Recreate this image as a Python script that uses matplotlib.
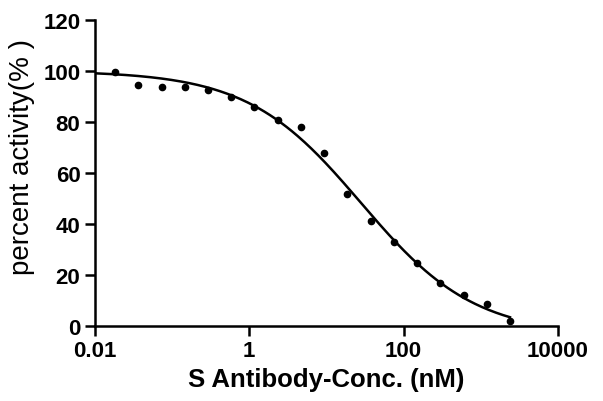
import numpy as np
import matplotlib
matplotlib.use('Agg')
import matplotlib.pyplot as plt

# 데이터 (2배 희석 농도, nM)
conc = [0.0183, 0.0366, 0.0732, 0.146, 0.293, 0.586, 1.17, 2.34, 4.69,
        9.375, 18.75, 37.5, 75, 150, 300, 600, 1200, 2400]
activity = [99.5, 94.5, 93.8, 93.8, 92.5, 89.7, 85.8, 80.9, 78.0,
            67.6, 51.8, 41.0, 32.9, 24.5, 16.8, 12.2, 8.6, 1.7]

x_ticks = [0.01, 1, 100, 10000]
x_ticklabels = ['0.01', '1', '100', '10000']
y_ticks = [0, 20, 40, 60, 80, 100, 120]

# 4PL 곡선 피팅 (top=100 고정, hill / IC50 격자 탐색 + bottom 최소제곱)
TOP = 100.0
x = np.array(conc)
y = np.array(activity)
best = None
for h in np.linspace(0.3, 1.5, 121):
    for lc in np.linspace(0, 2.5, 251):
        s = 1.0 / (1.0 + (x / 10**lc) ** h)
        # y = bottom + (TOP - bottom) * s  ->  y - TOP*s = bottom * (1 - s)
        b = np.sum((y - TOP * s) * (1 - s)) / np.sum((1 - s) ** 2)
        err = np.sum((b + (TOP - b) * s - y) ** 2)
        if best is None or err < best[0]:
            best = (err, h, lc, b)
_, hill, logic50, bottom = best

xf = np.logspace(-2, np.log10(conc[-1]), 300)
yf = bottom + (TOP - bottom) / (1 + (xf / 10**logic50) ** hill)

plt.rcParams['font.family'] = ['Liberation Sans', 'DejaVu Sans']
fig = plt.figure(figsize=(6.03, 4.02), dpi=100)
ax = fig.add_axes([0.1575, 0.187, 0.7675, 0.761])

ax.plot(xf, yf, color='black', lw=1.8)
ax.plot(conc, activity, 'o', color='black', ms=4.5)

ax.set_xscale('log')
ax.set_xlim(0.01, 10000)
ax.set_ylim(0, 120)
ax.set_xticks(x_ticks)
ax.set_xticklabels(x_ticklabels)
ax.minorticks_off()
ax.set_yticks(y_ticks)
ax.spines['top'].set_visible(False)
ax.spines['right'].set_visible(False)
for sp in ['left', 'bottom']:
    ax.spines[sp].set_linewidth(1.8)
ax.tick_params(width=1.8, length=7, labelsize=16)
for lab in ax.get_xticklabels() + ax.get_yticklabels():
    lab.set_fontweight('bold')
ax.set_xlabel('S Antibody-Conc. (nM)', fontsize=18.5, fontweight='bold', labelpad=4)
ax.set_ylabel('percent activity(% )', fontsize=20)
ax.yaxis.set_label_coords(-0.13, 0.556)

plt.savefig('out.png', dpi=100)
